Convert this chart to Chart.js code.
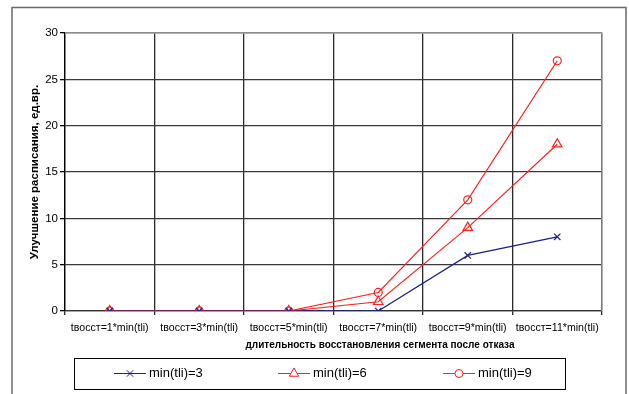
<!DOCTYPE html>
<html>
<head>
<meta charset="utf-8">
<script src="https://cdn.jsdelivr.net/npm/chart.js@4/dist/chart.umd.min.js"></script>
<style>
  html, body { margin: 0; padding: 0; background: #fff; }
  #wrap { width: 629px; height: 394px; }
</style>
</head>
<body>
<div id="wrap"><canvas id="c" width="629" height="394"></canvas></div>
<script>
// Категории: длительность восстановления сегмента
const categories = [
  'tвосст=1*min(tli)', 'tвосст=3*min(tli)', 'tвосст=5*min(tli)',
  'tвосст=7*min(tli)', 'tвосст=9*min(tli)', 'tвосст=11*min(tli)'
];
const seriesNames = ['min(tli)=3', 'min(tli)=6', 'min(tli)=9'];
const valuesMin3 = [0, 0, 0, 0, 6, 8];
const valuesMin6 = [0, 0, 0, 1, 9, 18];
const valuesMin9 = [0, 0, 0, 2, 12, 27];
const yTicks = [0, 5, 10, 15, 20, 25, 30];
const xTitle = 'длительность восстановления сегмента после отказа';
const yTitle = 'Улучшение расписания, ед.вр.';

const FONT = "'Liberation Sans', Arial, sans-serif";
const BLUE = '#1f1f8f';
const RED = '#ff2020';

const styles = [
  { color: BLUE, point: 'crossRot', radius: 4.5 },
  { color: RED, point: 'triangle', radius: 5.5 },
  { color: RED, point: 'circle', radius: 4 }
];
const seriesValues = [valuesMin3, valuesMin6, valuesMin9];

// Рамка вокруг диаграммы, подпись оси X и легенда в рамке
const framePlugin = {
  id: 'frame',
  beforeDraw(chart) {
    const ctx = chart.ctx;
    ctx.save();
    ctx.fillStyle = '#fff';
    ctx.fillRect(0, 0, chart.width, chart.height);
    ctx.strokeStyle = '#6a6a6a';
    ctx.lineWidth = 1.5;
    ctx.beginPath();
    ctx.moveTo(12, 394);
    ctx.lineTo(12, 7.5);
    ctx.lineTo(626, 7.5);
    ctx.lineTo(626, 394);
    ctx.stroke();
    ctx.restore();
  },
  afterDraw(chart) {
    const ctx = chart.ctx;
    const a = chart.chartArea;
    ctx.save();
    // верхняя и правая граница области построения
    ctx.strokeStyle = '#a8a8a8';
    ctx.lineWidth = 1.3;
    ctx.beginPath();
    ctx.moveTo(a.left, a.top);
    ctx.lineTo(a.right, a.top);
    ctx.lineTo(a.right, a.bottom);
    ctx.stroke();
    // подпись оси X
    ctx.fillStyle = '#000';
    ctx.font = "bold 10px " + FONT;
    ctx.textAlign = 'center';
    ctx.textBaseline = 'middle';
    ctx.fillText(xTitle, 380, 345);
    // легенда
    ctx.strokeStyle = '#000';
    ctx.lineWidth = 1;
    ctx.strokeRect(74.5, 358.5, 491, 31);
    const y = 373.5;
    const starts = [114, 278, 443];
    chart.data.datasets.forEach((ds, i) => {
      const x0 = starts[i];
      ctx.strokeStyle = ds.borderColor;
      ctx.lineWidth = 1;
      ctx.beginPath();
      ctx.moveTo(x0, y);
      ctx.lineTo(x0 + 32, y);
      ctx.stroke();
      ctx.fillStyle = '#fff';
      Chart.helpers.drawPoint(ctx, {
        pointStyle: ds.pointStyle, radius: ds.pointRadius, borderWidth: 1, rotation: 0
      }, x0 + 16, y);
      ctx.fillStyle = '#000';
      ctx.font = "13px " + FONT;
      ctx.textBaseline = 'middle';
      ctx.textAlign = 'left';
      ctx.fillText(ds.label, x0 + 35, y);
    });
    ctx.restore();
  }
};

const datasets = seriesNames.map((name, i) => ({
  label: name,
  data: seriesValues[i],
  borderColor: styles[i].color,
  backgroundColor: '#fff',
  borderWidth: 1.2,
  pointStyle: styles[i].point,
  pointRadius: styles[i].radius,
  pointBorderWidth: 1.2,
  pointBackgroundColor: 'rgba(255,255,255,0)',
  pointBorderColor: styles[i].color,
  tension: 0,
  fill: false
}));

new Chart(document.getElementById('c'), {
  type: 'line',
  data: { labels: categories, datasets },
  plugins: [framePlugin],
  options: {
    responsive: false,
    animation: false,
    devicePixelRatio: 1,
    layout: { padding: { left: 28, top: 33, right: 27, bottom: 40 } },
    plugins: { legend: { display: false }, tooltip: { enabled: false } },
    scales: {
      x: {
        type: 'category',
        offset: true,
        afterFit(scale) { scale.height = 43; },
        grid: {
          offset: true,
          color: '#2a2a2a',
          lineWidth: 1.3,
          drawTicks: true,
          tickLength: 4,
          tickColor: '#2a2a2a'
        },
        border: { color: '#333', width: 1.3 },
        ticks: {
          color: '#000',
          font: { family: FONT, size: 10.6 },
          padding: 7,
          maxRotation: 0,
          autoSkip: false
        }
      },
      y: {
        min: 0,
        max: 30,
        afterFit(scale) { scale.width = 37; },
        afterBuildTicks(scale) { scale.ticks = yTicks.map(v => ({ value: v })); },
        grid: {
          color: '#3a3a3a',
          lineWidth: 1.3,
          drawTicks: true,
          tickLength: 5,
          tickColor: '#000'
        },
        border: { color: '#000', width: 1.3 },
        ticks: {
          color: '#000',
          font: { family: FONT, size: 11.5 },
          padding: 2
        },
        title: {
          display: true,
          text: yTitle,
          color: '#000',
          font: { family: FONT, size: 11.5, weight: 'bold' },
          padding: 0
        }
      }
    }
  }
});
</script>
</body>
</html>
